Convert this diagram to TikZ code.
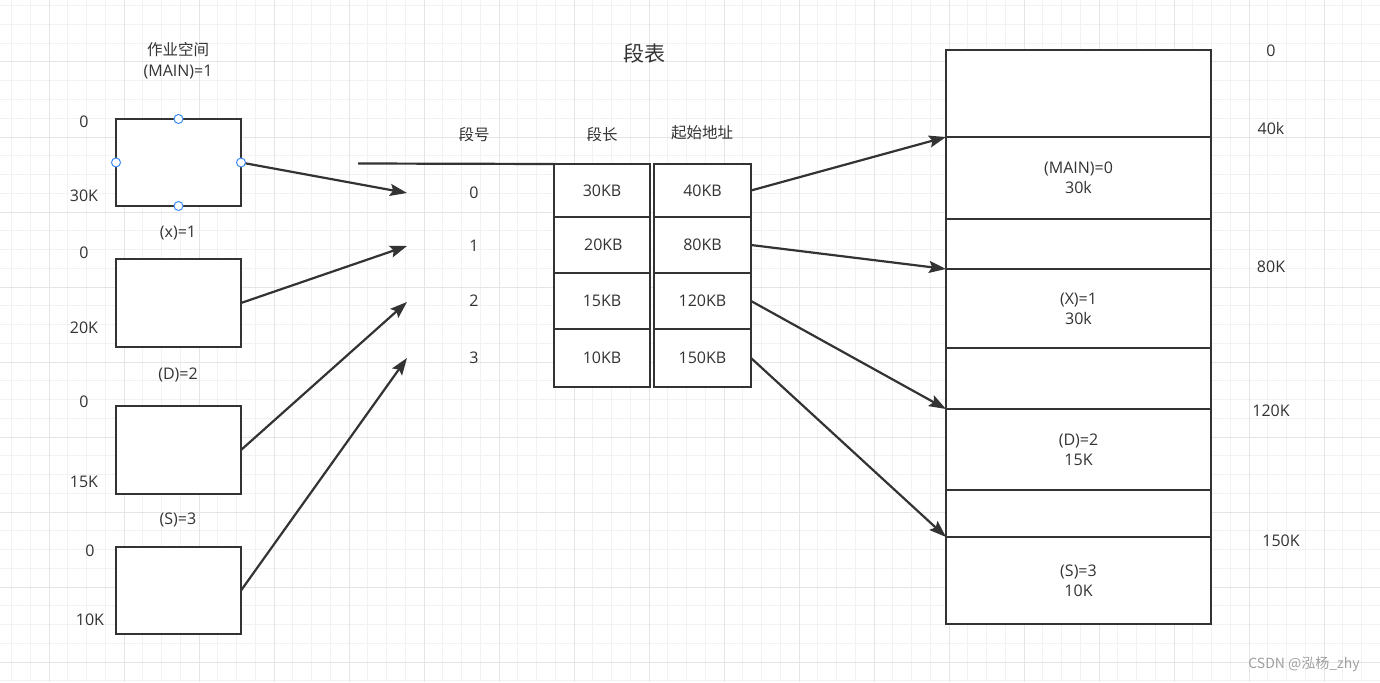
\documentclass[tikz,border=0pt]{standalone}
\usepackage{fontspec}
\setmainfont{Open Sans}
\newfontfamily\cjk{Noto Sans CJK SC}
\usetikzlibrary{arrows.meta}
\definecolor{ink}{HTML}{333333}
\definecolor{gmin}{HTML}{F2F2F2}
\definecolor{gmaj}{HTML}{E5E5E5}
\definecolor{handle}{HTML}{3D8BF2}
\definecolor{wm}{HTML}{A0A0A0}
\tikzset{
  box/.style={draw=ink, line width=2.2pt, fill=white, inner sep=0pt, outer sep=0pt, rectangle, text=ink, align=center, font=\fontsize{16}{20}\selectfont},
  lbl/.style={text=ink, inner sep=0pt, font=\fontsize{16}{18}\selectfont},
  clbl/.style={text=ink, inner sep=0pt, font=\cjk\fontsize{15.5}{18}\selectfont},
  arr/.style={draw=ink, line width=2.2pt, -{Stealth[length=17pt,width=12pt,inset=3pt]}},
  hdl/.style={circle, draw=handle, fill=white, line width=1pt, minimum size=9pt, inner sep=0pt},
}
\begin{document}
\begin{tikzpicture}[x=1pt,y=-1pt]
\useasboundingbox (0,0) rectangle (1380,682);
\fill[white] (0,0) rectangle (1380,682);
% grid
\foreach \i in {-2,...,71} \draw[gmin, line width=1pt] ({49+18.75*\i},0) -- ({49+18.75*\i},682);
\foreach \j in {-3,...,33} \draw[gmin, line width=1pt] (0,{62+18.75*\j}) -- (1380,{62+18.75*\j});
\foreach \i in {0,...,17} \draw[gmaj, line width=1pt] ({49+75*\i},0) -- ({49+75*\i},682);
\foreach \j in {0,...,8} \draw[gmaj, line width=1pt] (0,{62+75*\j}) -- (1380,{62+75*\j});

% left boxes
\node[box, minimum width=125pt, minimum height=87pt] (b1) at (178.5,162.5) {};
\node[box, minimum width=125pt, minimum height=88pt] (b2) at (178.5,303) {};
\node[box, minimum width=125pt, minimum height=88pt] (b3) at (178.5,450) {};
\node[box, minimum width=125pt, minimum height=87pt] (b4) at (178.5,590.5) {};

% left labels
\node[clbl] (tw) at (178,50) {作业空间};
\node[lbl] (tm) at (178,72) {(MAIN)=1};
\node[lbl] (z1) at (84,122) {0};
\node[lbl] (e1) at (84,196) {30K};
\node[lbl] (tx) at (178,233) {(x)=1};
\node[lbl] (z2) at (84,253) {0};
\node[lbl] (e2) at (84,328) {20K};
\node[lbl] (td) at (178,375) {(D)=2};
\node[lbl] (z3) at (84,402) {0};
\node[lbl] (e3) at (84,482) {15K};
\node[lbl] (ts) at (178,520) {(S)=3};
\node[lbl] (z4) at (90,551) {0};
\node[lbl] (e4) at (90,620) {10K};

% segment table
\node[text=ink, inner sep=0pt, font=\cjk\fontsize{21}{24}\selectfont] (title) at (644,53) {段表};
\node[clbl] (h1) at (474,135) {段号};
\node[clbl] (h2) at (602,135) {段长};
\node[clbl] (h3) at (702,133) {起始地址};

\node[lbl] (n0) at (474,193) {0};
\node[lbl] (n1) at (474,246) {1};
\node[lbl] (n2) at (474,301) {2};
\node[lbl] (n3) at (474,358) {3};

\node[box, minimum width=96pt, minimum height=53pt] (c11) at (602,190.5) {\raisebox{-2pt}{30KB}};
\node[box, minimum width=97pt, minimum height=53pt] (c12) at (702.5,190.5) {\raisebox{-2pt}{40KB}};
\node[box, minimum width=96pt, minimum height=56pt] (c21) at (602,245) {\,\raisebox{-1pt}{20KB}};
\node[box, minimum width=97pt, minimum height=56pt] (c22) at (702.5,245) {\raisebox{-1pt}{80KB}};
\node[box, minimum width=96pt, minimum height=56pt] (c31) at (602,301) {15KB};
\node[box, minimum width=97pt, minimum height=56pt] (c32) at (702.5,301) {120KB};
\node[box, minimum width=96pt, minimum height=58pt] (c41) at (602,358) {10KB};
\node[box, minimum width=97pt, minimum height=58pt] (c42) at (702.5,358) {150KB};

\coordinate (hl) at (358,163.5);
\draw[ink, line width=2.2pt] (hl) -- (c11.north west);

% memory
\node[box, minimum width=265pt, minimum height=87pt] (m0) at (1078.5,93.5) {};
\node[box, minimum width=265pt, minimum height=82pt] (m1) at (1078.5,178) {(MAIN)=0\\30k};
\node[box, minimum width=265pt, minimum height=50pt] (m2) at (1078.5,244) {};
\node[box, minimum width=265pt, minimum height=79pt] (m3) at (1078.5,308.5) {(X)=1\\30k};
\node[box, minimum width=265pt, minimum height=61pt] (m4) at (1078.5,378.5) {};
\node[box, minimum width=265pt, minimum height=81pt] (m5) at (1078.5,449.5) {(D)=2\\15K};
\node[box, minimum width=265pt, minimum height=47pt] (m6) at (1078.5,513.5) {};
\node[box, minimum width=265pt, minimum height=87pt] (m7) at (1078.5,580.5) {(S)=3\\10K};

\node[lbl] (r0) at (1271,51) {0};
\node[lbl] (r1) at (1271,129) {40k};
\node[lbl] (r2) at (1271,267) {80K};
\node[lbl] (r3) at (1271,411) {120K};
\node[lbl] (r4) at (1281,541) {150K};

% arrows left -> segment numbers
\coordinate (t0) at (407,193);
\coordinate (t1) at (407,246);
\coordinate (t2) at (407,302);
\coordinate (t3) at (407,358);
\draw[arr] (b1.east) -- (t0);
\draw[arr] (b2.east) -- (t1);
\draw[arr] (b3.east) -- (t2);
\draw[arr] (b4.east) -- (t3);

% arrows table -> memory
\draw[arr] (c12.east) -- (m1.north west);
\draw[arr] (c22.east) -- (m3.north west);
\draw[arr] (c32.east) -- (m5.north west);
\draw[arr] (c42.east) -- (m7.north west);

% selection handles
\node[hdl] (hn) at (b1.north) {};
\node[hdl] (hs) at (b1.south) {};
\node[hdl] (hw) at (b1.west) {};
\node[hdl] (he) at (b1.east) {};

% watermark
\node[text=wm, inner sep=0pt, font=\cjk\fontsize{14}{16}\selectfont] (wmk) at (1304,664) {CSDN @泓杨\_zhy};
\end{tikzpicture}
\end{document}
